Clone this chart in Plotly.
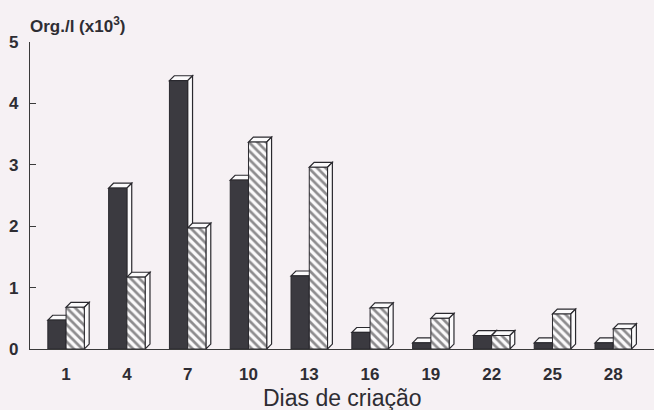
import plotly.graph_objects as go

# Days of rearing and densities (x10^3 organisms per litre)
days = [1, 4, 7, 10, 13, 16, 19, 22, 25, 28]
dark_vals = [0.47, 2.62, 4.37, 2.75, 1.19, 0.27, 0.10, 0.22, 0.10, 0.10]
hatch_vals = [0.68, 1.17, 1.97, 3.37, 2.96, 0.67, 0.50, 0.22, 0.57, 0.33]
y_ticks = [0, 1, 2, 3, 4, 5]

BAR_W = 0.9          # bar width in day units
DX, DY = 0.24, 0.08  # 3-D depth offset (x in days, y in axis units)
INK = "#2a292e"
FACE = "#fbfafb"
BG = "#f6f1f4"
TXT = "#2e2d33"

fig = go.Figure()

fig.add_bar(x=days, y=dark_vals, offset=-BAR_W, width=BAR_W,
            marker=dict(color="#3b3a40", line=dict(color=INK, width=1)),
            showlegend=False, hoverinfo="skip")
fig.add_bar(x=days, y=hatch_vals, offset=0, width=BAR_W,
            marker=dict(color=FACE, line=dict(color=INK, width=1),
                        pattern=dict(shape="\\", fgcolor="#1f1e22",
                                     bgcolor=FACE, size=6, solidity=0.45)),
            showlegend=False, hoverinfo="skip")


def box_faces(x0, x1, v):
    """Top and right faces of a 3-D bar, in data coordinates."""
    top = (f"M{x0},{v} L{x0 + DX},{v + DY} L{x1 + DX},{v + DY} "
           f"L{x1},{v} Z")
    side = (f"M{x1},0 L{x1 + DX},{DY} L{x1 + DX},{v + DY} "
            f"L{x1},{v} Z")
    return [top, side]


shapes = []
for d, dv, hv in zip(days, dark_vals, hatch_vals):
    for x0, x1, v in ((d - BAR_W, d, dv), (d, d + BAR_W, hv)):
        for p in box_faces(x0, x1, v):
            shapes.append(dict(type="path", path=p, xref="x", yref="y",
                               layer="below", fillcolor=FACE,
                               line=dict(color=INK, width=1.2)))

tick_font = dict(size=17, color=TXT, weight="bold")

fig.update_layout(
    width=654, height=410,
    margin=dict(l=30, r=0, t=42, b=61),
    paper_bgcolor=BG, plot_bgcolor=BG,
    barmode="overlay",
    shapes=shapes,
    font=dict(family="Liberation Sans, Arial, sans-serif", color=TXT),
    xaxis=dict(range=[-0.78, 30.01], tickvals=days,
               ticktext=[str(d) for d in days], ticks="",
               showgrid=False, zeroline=False, showline=True,
               linecolor="#3a3a3a", linewidth=1.4,
               tickfont=tick_font, ticklabelstandoff=9),
    yaxis=dict(range=[0, 5], tickvals=y_ticks, ticks="inside", ticklen=6,
               tickcolor="#3a3a3a", tickwidth=1.3,
               showgrid=False, zeroline=False, showline=True,
               linecolor="#3a3a3a", linewidth=1.4,
               tickfont=tick_font, ticklabelstandoff=7),
    annotations=[
        dict(text="<b>Org./l (x10<sup>3</sup>)</b>",
             xref="paper", yref="paper", x=-0.003, y=1.0,
             xanchor="left", yanchor="bottom", yshift=4,
             showarrow=False, font=dict(size=17, color=TXT)),
        dict(text="Dias de criação",
             xref="paper", yref="paper", x=0.5, y=-0.16,
             xanchor="center", yanchor="middle",
             showarrow=False, font=dict(size=23, color=TXT)),
    ],
)

fig.write_html("out.html")
